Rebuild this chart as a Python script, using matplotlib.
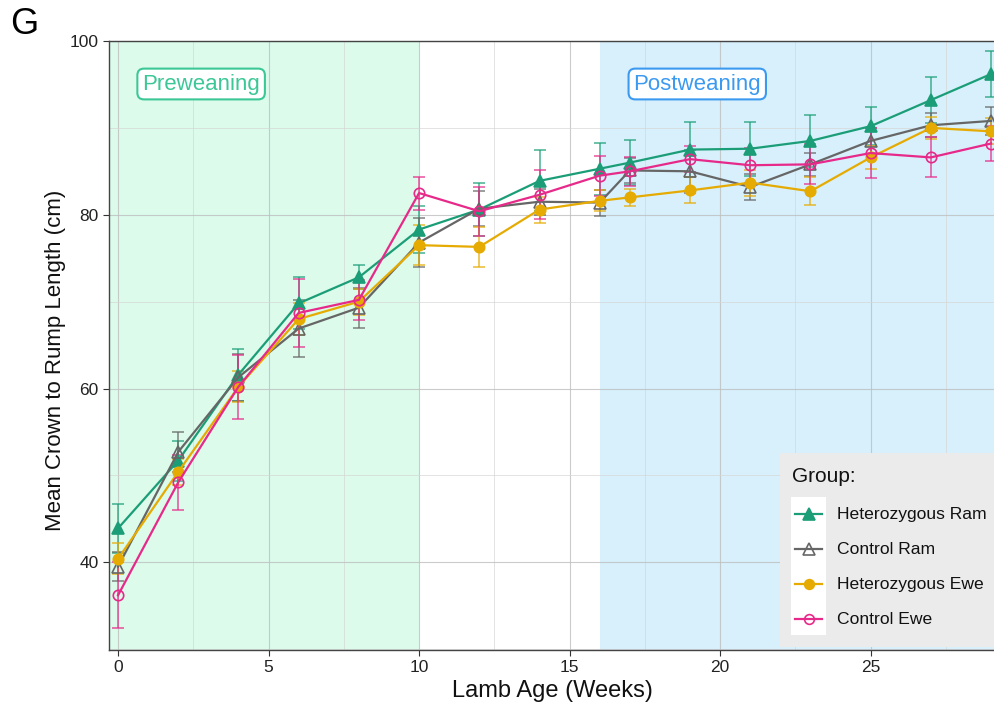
import matplotlib
matplotlib.use("Agg")
import matplotlib.pyplot as plt
from matplotlib.lines import Line2D
from matplotlib.patches import Rectangle

plt.rcParams["font.family"] = ["Liberation Sans", "DejaVu Sans"]

# lamb age at each measurement (weeks)
weeks = [0, 2, 4, 6, 8, 10, 12, 14, 16, 17, 19, 21, 23, 25, 27, 29]

het_ram = [43.9, 51.7, 61.6, 69.8, 72.8, 78.3, 80.6, 83.9, 85.3, 86.0, 87.5, 87.6, 88.5, 90.2, 93.2, 96.2]
het_ram_sd = [2.8, 2.3, 3.0, 3.0, 1.4, 2.7, 3.1, 3.5, 3.0, 2.6, 3.2, 3.1, 3.0, 2.2, 2.6, 2.6]

ctl_ram = [39.5, 52.7, 61.3, 66.9, 69.3, 76.8, 80.7, 81.5, 81.4, 85.1, 85.0, 83.2, 85.8, 88.5, 90.3, 90.8]
ctl_ram_sd = [1.7, 2.3, 2.7, 3.3, 2.3, 2.8, 2.0, 1.5, 1.5, 1.4, 2.5, 1.5, 1.3, 1.5, 1.4, 1.6]

het_ewe = [40.4, 50.4, 60.2, 68.0, 70.0, 76.5, 76.3, 80.6, 81.6, 82.0, 82.8, 83.7, 82.7, 86.6, 90.0, 89.6]
het_ewe_sd = [1.8, 1.5, 1.8, 1.8, 1.5, 2.3, 2.3, 1.5, 1.2, 1.0, 1.5, 1.5, 1.6, 1.3, 1.3, 1.5]

ctl_ewe = [36.2, 49.2, 60.2, 68.7, 70.2, 82.5, 80.4, 82.3, 84.5, 85.0, 86.4, 85.7, 85.8, 87.1, 86.6, 88.2]
ctl_ewe_sd = [3.8, 3.2, 3.7, 3.9, 2.3, 1.9, 2.8, 2.8, 2.3, 1.7, 1.5, 2.0, 2.3, 2.9, 2.3, 2.0]

groups = ["Heterozygous Ram", "Control Ram", "Heterozygous Ewe", "Control Ewe"]
colors = ["#1B9E77", "#666666", "#E6AB02", "#E7298A"]
markers = ["^", "^", "o", "o"]
filled = [True, False, True, False]
series = [(het_ram, het_ram_sd), (ctl_ram, ctl_ram_sd), (het_ewe, het_ewe_sd), (ctl_ewe, ctl_ewe_sd)]

W, H = 995, 706
fig = plt.figure(figsize=(W / 100, H / 100), dpi=100, facecolor="white")
ax = fig.add_axes([109 / W, 1 - 650 / H, (995 - 109) / W, (650 - 41) / H])

ax.set_xlim(-0.3, 29.13)
ax.set_ylim(29.9, 100)

# weaning periods
ax.axvspan(-0.3, 10, color="#DCFBEB", zorder=0.2, lw=0)
ax.axvspan(16, 29.13, color="#D7F0FC", zorder=0.2, lw=0)

ax.set_xticks([0, 5, 10, 15, 20, 25])
ax.set_xticks([2.5, 7.5, 12.5, 17.5, 22.5, 27.5], minor=True)
ax.set_yticks([40, 60, 80, 100])
ax.set_yticks([30, 50, 70, 90], minor=True)
ax.grid(which="major", color="#BEBEBE", lw=0.8, alpha=0.8)
ax.grid(which="minor", color="#D6D6D6", lw=0.6, alpha=0.8)
ax.tick_params(which="major", length=4, width=0.8, color="#333333", labelsize=12.5, labelcolor="#222222")
ax.tick_params(which="minor", length=0)
for s in ax.spines.values():
    s.set_color("#444444")
    s.set_linewidth(1.0)

for (vals, sd), name, c, m, f in zip(series, groups, colors, markers, filled):
    ax.errorbar(weeks, vals, yerr=sd, fmt="none", ecolor=c, elinewidth=1.2,
                capsize=4, capthick=1.2, alpha=0.75, zorder=3)
    ax.plot(weeks, vals, color=c, lw=1.6, zorder=4,
            marker=m, markersize=8.5 if m == "^" else 7.5,
            markerfacecolor=c if f else "none", markeredgecolor=c,
            markeredgewidth=1.2, label=name)

ax.text(2.76, 95.05, "Preweaning", color="#3CC896", fontsize=16, ha="center", va="center",
        bbox=dict(boxstyle="round,pad=0.22,rounding_size=0.3", fc="white", ec="#3CC896", lw=1.5), zorder=6)
ax.text(19.24, 95.05, "Postweaning", color="#3B9AF0", fontsize=16, ha="center", va="center",
        bbox=dict(boxstyle="round,pad=0.22,rounding_size=0.3", fc="white", ec="#3B9AF0", lw=1.5), zorder=6)

ax.set_xlabel("Lamb Age (Weeks)", fontsize=17, color="#111111", labelpad=3)
ax.set_ylabel("Mean Crown to Rump Length (cm)", fontsize=16, color="#111111")
ax.yaxis.set_label_coords(-0.0485, 0.475)

fig.text(10 / W, 1 - 24 / H, "G", fontsize=26, color="black", va="center", ha="left")


# legend laid out in pixel positions
def fx(x):
    return x / W


def fy(y):
    return 1 - y / H


fig.add_artist(Rectangle((fx(780), fy(647)), fx(995) - fx(780), fy(453) - fy(647),
                         transform=fig.transFigure, fc="#EBEBEB", ec="none", zorder=7))
fig.add_artist(Rectangle((fx(791), fy(635)), fx(826) - fx(791), fy(497) - fy(635),
                         transform=fig.transFigure, fc="white", ec="none", zorder=7.5))
fig.text(fx(792), fy(477), "Group:", fontsize=15, color="#111111", va="center", ha="left", zorder=8)
for i, (name, c, m, f) in enumerate(zip(groups, colors, markers, filled)):
    yy = fy(514 + i * 35)
    fig.add_artist(Line2D([fx(795), fx(822)], [yy, yy], transform=fig.transFigure, color=c, lw=1.6, zorder=8))
    fig.add_artist(Line2D([fx(808.5)], [yy], transform=fig.transFigure, marker=m,
                          markersize=8.5 if m == "^" else 7, markerfacecolor=c if f else "none",
                          markeredgecolor=c, markeredgewidth=1.2, zorder=8.5))
    fig.text(fx(837), yy, name, fontsize=12.6, color="#111111", va="center", ha="left", zorder=8)

fig.savefig("out.png", dpi=100, facecolor="white")
